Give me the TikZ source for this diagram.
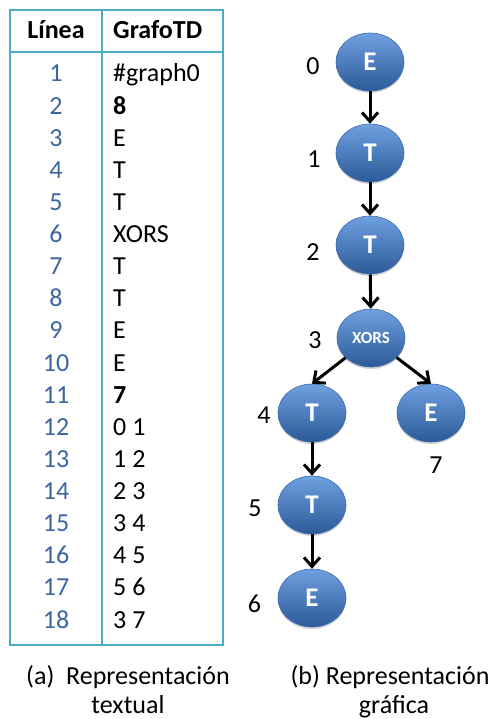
\documentclass[tikz,border=0pt]{standalone}
\usepackage{fontspec}
\setmainfont{Carlito}
\usetikzlibrary{arrows.meta, shapes.geometric, shadows}
\definecolor{tablecyan}{HTML}{4BACC6}
\definecolor{rowblue}{HTML}{3B66A0}
\definecolor{balltop}{HTML}{6FA0E0}
\definecolor{ballmid}{HTML}{4A7FC6}
\definecolor{ballbot}{HTML}{2C5A98}
\definecolor{balledge}{HTML}{3A6AAE}

\begin{document}
\begin{tikzpicture}[
    x=1pt, y=-1pt,
    gnode/.style={ellipse, minimum width=68pt, minimum height=58pt, inner sep=0pt,
                  top color=balltop, middle color=ballmid, bottom color=ballbot,
                  draw=balledge, line width=0.6pt,
                  text=white, font=\fontsize{27}{30}\selectfont\bfseries,
                  drop shadow={opacity=0.35, shadow xshift=0pt, shadow yshift=-2pt}},
    edgearrow/.style={-{Straight Barb[length=9pt, width=16pt]}, line width=3pt},
    txt/.style={font=\fontsize{26}{30}\selectfont, inner sep=0pt, anchor=base},
    gridline/.style={draw=tablecyan, line width=2.7pt}
  ]
    \useasboundingbox (0,0) rectangle (496,719);

    % table
    \draw[gridline] (10,10) rectangle (223,645);
    \draw[gridline] (102,10) -- (102,645);
    \draw[gridline] (10,52) -- (223,52);
    \node[txt, font=\fontsize{26}{30}\selectfont\bfseries] (hlinea) at (56,39) {Línea};
    \node[txt, anchor=base west, font=\fontsize{26}{30}\selectfont\bfseries] (hgrafo) at (113,39) {GrafoTD};
    \foreach \i/\v in {1/\#graph0, 2/\textbf{8}, 3/E, 4/T, 5/T, 6/XORS, 7/T, 8/T, 9/E,
                       10/E, 11/\textbf{7}, 12/0 1, 13/1 2, 14/2 3, 15/3 4, 16/4 5, 17/5 6, 18/3 7} {
      \node[txt, text=rowblue] (num\i) at (56, {82+(\i-1)*32.12}) {\i};
      \node[txt, anchor=base west] (val\i) at (113, {82+(\i-1)*32.12}) {\v};
    }

    % graph
    \node[gnode] (g0) at (370,62) {E};
    \node[gnode] (g1) at (370,153) {T};
    \node[gnode] (g2) at (370,245) {T};
    \node[gnode, font=\fontsize{17}{20}\selectfont\bfseries] (g3) at (371,338) {XORS};
    \node[gnode] (g4) at (312,413) {T};
    \node[gnode] (g7) at (431,413) {E};
    \node[gnode] (g5) at (312,505) {T};
    \node[gnode] (g6) at (312,598) {E};

    \draw[edgearrow] (g0) -- (g1);
    \draw[edgearrow] (g1) -- (g2);
    \draw[edgearrow] (g2) -- (g3);
    \draw[edgearrow] (g3) -- (g4.north);
    \draw[edgearrow] (g3) -- (g7.north);
    \draw[edgearrow] (g4) -- (g5);
    \draw[edgearrow] (g5) -- (g6);

    \node[txt] (l0) at (313,75) {0};
    \node[txt] (l1) at (314,168) {1};
    \node[txt] (l2) at (313,260) {2};
    \node[txt] (l3) at (315,348) {3};
    \node[txt] (l4) at (264,423) {4};
    \node[txt] (l7) at (436,473) {7};
    \node[txt] (l5) at (255,516) {5};
    \node[txt] (l6) at (254.5,612) {6};

    % captions
    \node[txt] (capa1) at (128,684) {(a)\ \ Representación};
    \node[txt] (capa2) at (128,713) {textual};
    \node[txt] (capb1) at (390,684) {(b) Representación};
    \node[txt] (capb2) at (394,713) {gráfica};
  \end{tikzpicture}
\end{document}
